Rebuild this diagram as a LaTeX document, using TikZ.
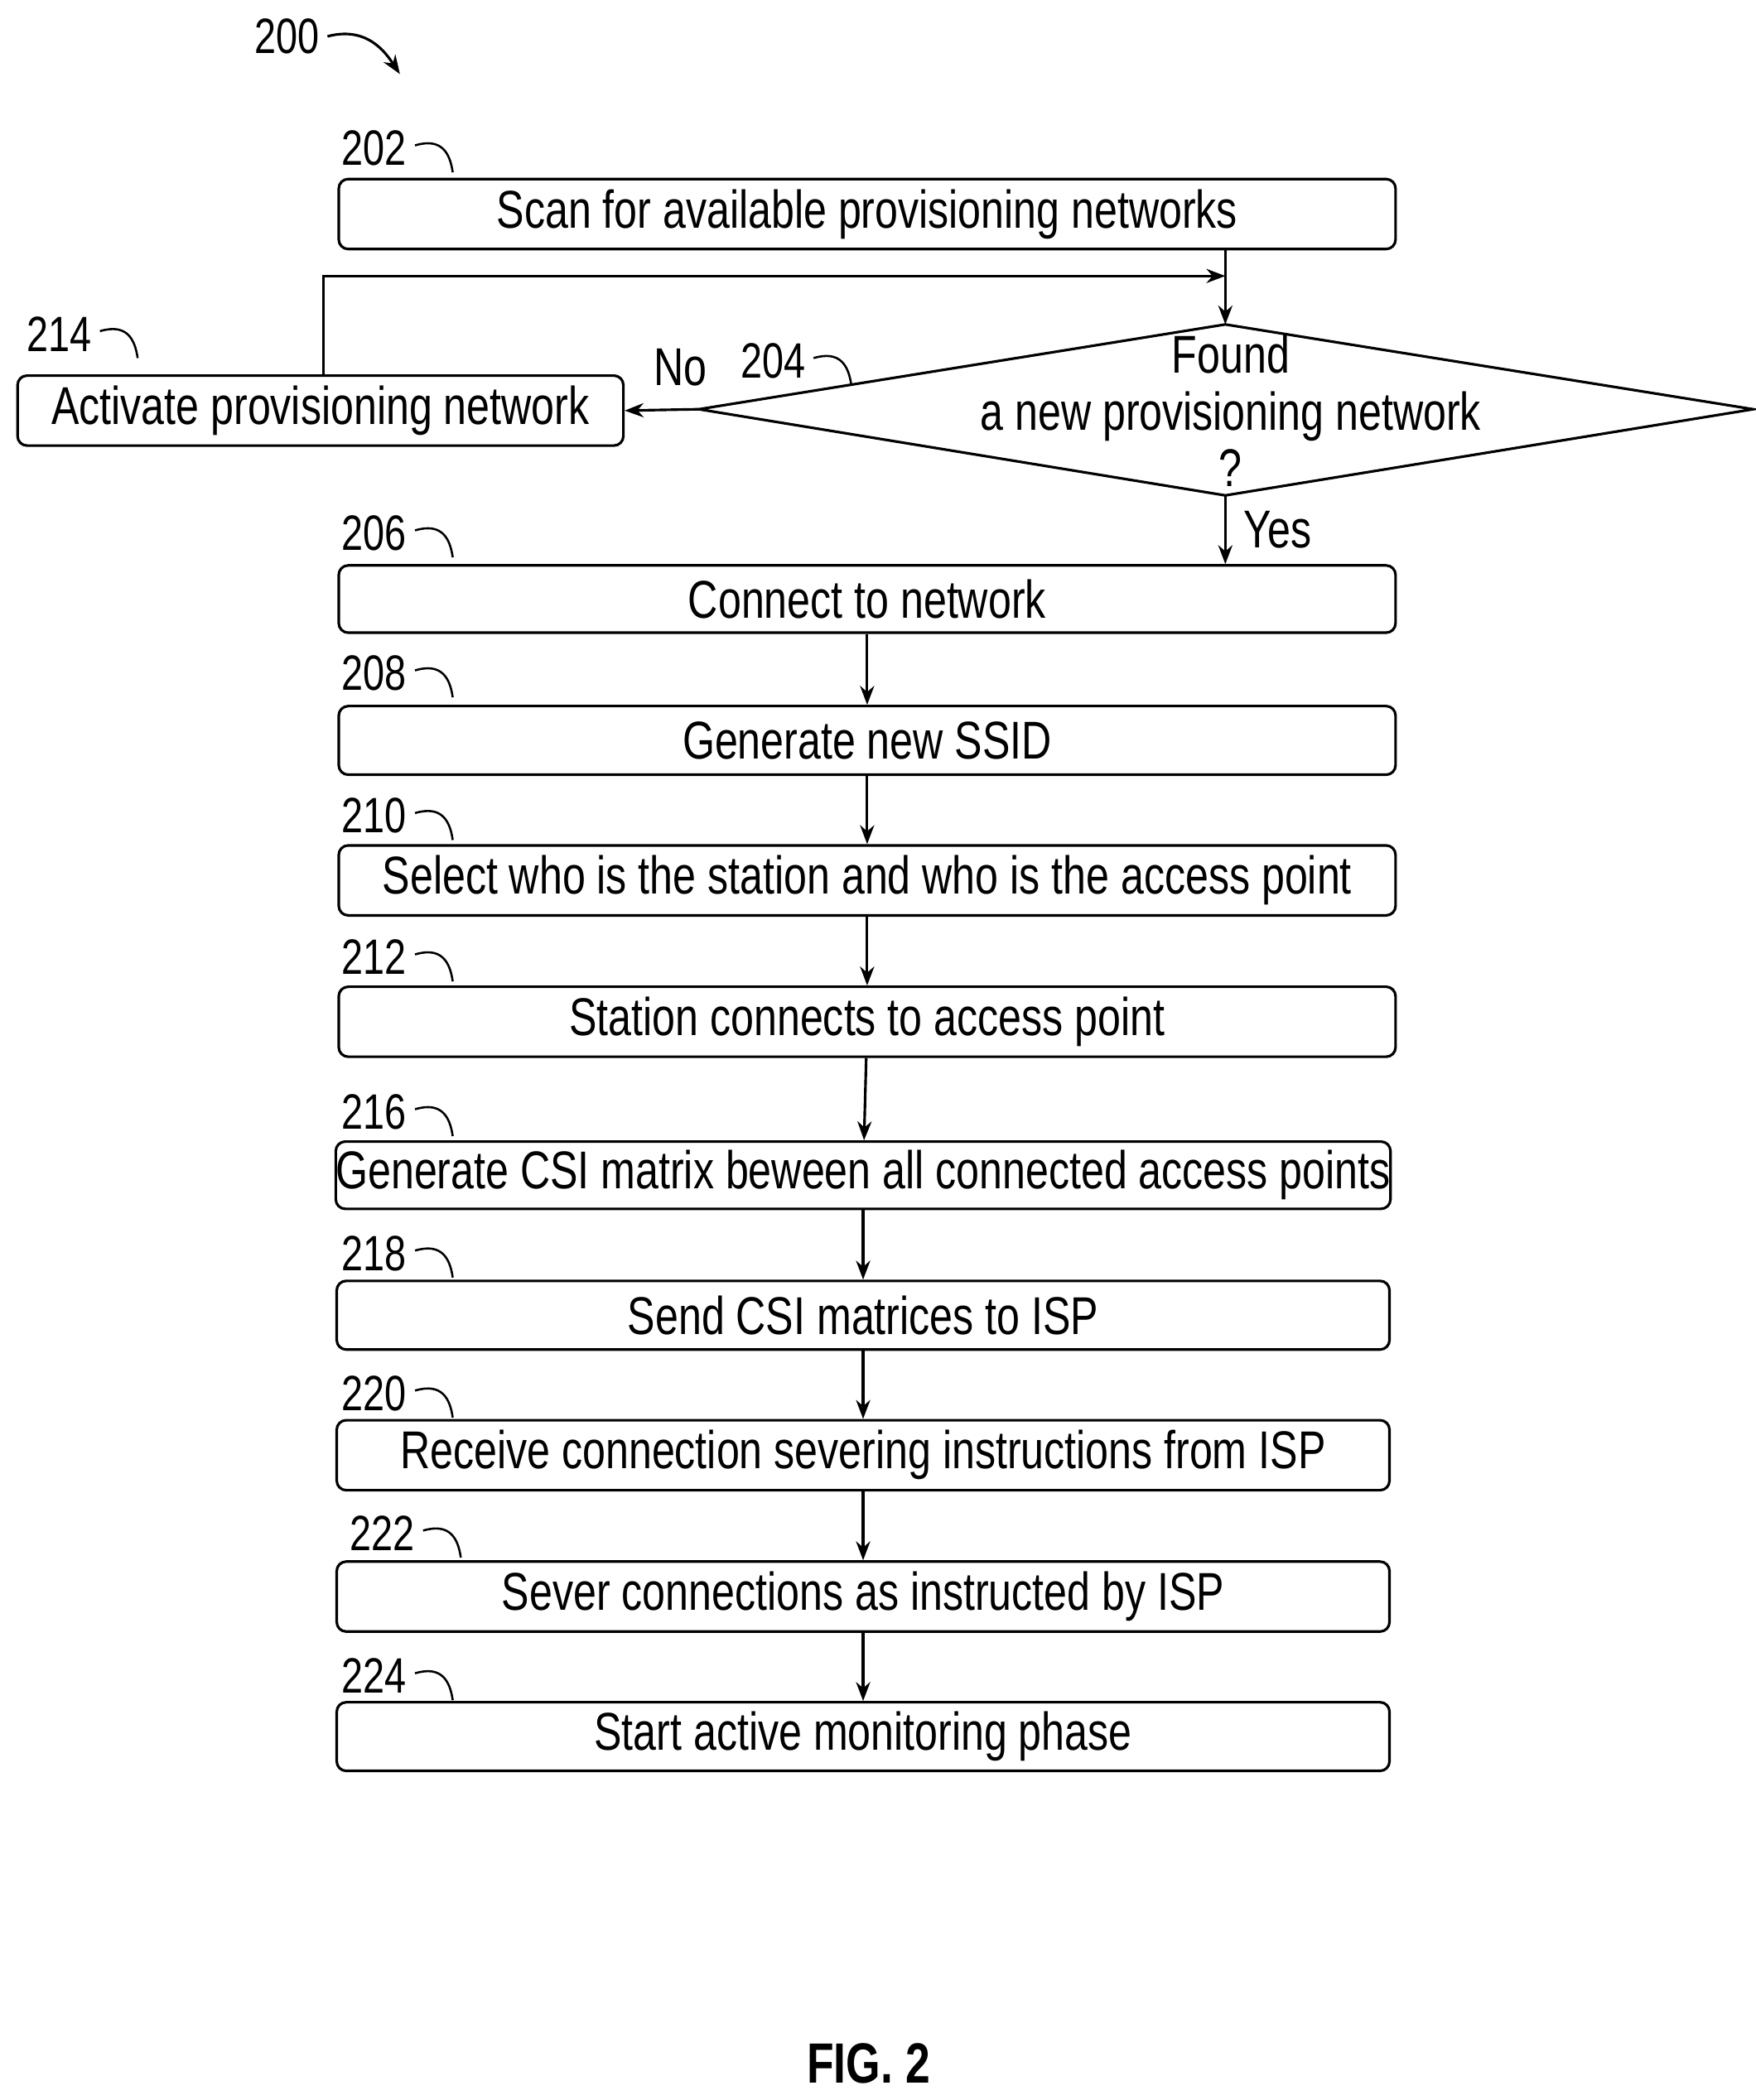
\documentclass[tikz,border=0pt]{standalone}
\usepackage{fontspec}
\setmainfont{Liberation Sans}[FakeStretch=0.78]
\usetikzlibrary{arrows.meta}
\tikzset{
  procbox/.style={draw,rounded corners=4pt,line width=1.1pt,inner sep=0pt,font=\fontsize{22.5}{25}\selectfont},
  flow/.style={-{Stealth[length=8pt,width=6pt]},line width=1.1pt},
  refnum/.style={font=\fontsize{21}{24}\selectfont}
}
\newcommand{\refmark}[3]{%
  \node[refnum] (#2) at (#1) {#3};
  \draw[line width=0.9pt] (#2.east) ++(0,-2) .. controls +(20,-6) and +(-2,-14) .. ++(28,20);
}
\begin{document}
\begin{tikzpicture}[x=0.02cm,y=-0.02cm]
\useasboundingbox (0,0) rectangle (1304,1560);
% steps
\node[procbox,minimum width=15.7cm,minimum height=1.04cm] (scan) at (644,159) {Scan for available provisioning networks};
\node[procbox,minimum width=9cm,minimum height=1.04cm] (activate) at (238,305) {Activate provisioning network};
\draw[line width=1.1pt] (519,304) -- (910,241) -- (1302,304) -- (910,368) -- cycle;
\coordinate (dtop) at (910,241);
\coordinate (dleft) at (519,304);
\coordinate (dbot) at (910,368);
\node[font=\fontsize{22.5}{24}\selectfont,align=center] (found) at (914,305) {Found\\a new provisioning network\\?};
\node[procbox,minimum width=15.7cm,minimum height=1.0cm] (connect) at (644,445) {Connect to network};
\node[procbox,minimum width=15.7cm,minimum height=1.02cm] (ssid) at (644,550) {Generate new SSID};
\node[procbox,minimum width=15.7cm,minimum height=1.04cm] (select) at (644,654) {Select who is the station and who is the access point};
\node[procbox,minimum width=15.7cm,minimum height=1.04cm] (station) at (644,759) {Station connects to access point};
\node[procbox,minimum width=15.64cm,minimum height=1.0cm] (csi) at (641,873) {Generate CSI matrix beween all connected access points};
\node[procbox,minimum width=15.64cm,minimum height=1.02cm] (send) at (641,977) {Send CSI matrices to ISP};
\node[procbox,minimum width=15.64cm,minimum height=1.04cm] (receive) at (641,1081) {Receive connection severing instructions from ISP};
\node[procbox,minimum width=15.64cm,minimum height=1.04cm] (sever) at (641,1186) {Sever connections as instructed by ISP};
\node[procbox,minimum width=15.64cm,minimum height=1.02cm] (start) at (641,1290) {Start active monitoring phase};
% labels
\refmark{278,110}{n202}{202}
\refmark{44,248}{n214}{214}
\refmark{574,268}{n204}{204}
\refmark{278,396}{n206}{206}
\refmark{278,500}{n208}{208}
\refmark{278,606}{n210}{210}
\refmark{278,711}{n212}{212}
\refmark{278,826}{n216}{216}
\refmark{278,931}{n218}{218}
\refmark{278,1035}{n220}{220}
\refmark{284,1139}{n222}{222}
\refmark{278,1245}{n224}{224}
\node[refnum] (n200) at (213,27) {200};
\draw[flow] (n200.east) .. controls +(30,-8) and +(-10,-15) .. (297,55);
% connectors
\draw[flow] (scan.south -| dtop) -- (dtop);
\coordinate (loop) at (910,205);
\draw[flow] (activate.north -| 240,0) |- (loop);
\draw[flow] (dleft) -- (activate.east) node[pos=0.25,above=6pt,font=\fontsize{22.5}{25}\selectfont] {No};
\draw[flow] (dbot) -- (connect.north -| dbot) node[midway,right=4pt,font=\fontsize{22.5}{25}\selectfont] {Yes};
\draw[flow] (connect) -- (ssid);
\draw[flow] (ssid) -- (select);
\draw[flow] (select) -- (station);
\draw[flow] (station) -- (csi);
\draw[flow] (csi) -- (send);
\draw[flow] (send) -- (receive);
\draw[flow] (receive) -- (sever);
\draw[flow] (sever) -- (start);
\node[font=\bfseries\fontsize{24}{26}\selectfont] (fig) at (645,1533) {FIG. 2};
\end{tikzpicture}
\end{document}
